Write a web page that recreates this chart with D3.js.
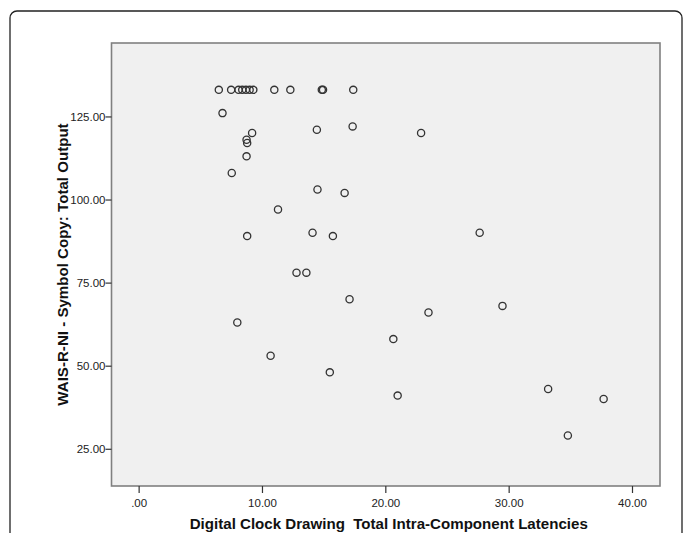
<!DOCTYPE html>
<html>
<head>
<meta charset="utf-8">
<script src="https://cdn.jsdelivr.net/npm/d3@7"></script>
<style>
  body { margin: 0; background: #fff; }
  text { font-family: "Liberation Sans", Arial, sans-serif; }
</style>
</head>
<body>
<div id="chart"></div>
<script>
/* data */
var latency = [6.5, 7.5, 8.1, 8.4, 8.7, 9.0, 9.3, 11.0, 12.3, 14.85, 14.95, 17.4,
               6.8, 9.2, 8.75, 8.8, 8.75, 7.55, 14.45, 17.35, 22.9,
               14.5, 16.7, 11.3, 8.8, 14.1, 15.75, 27.65, 12.8, 13.6,
               17.1, 23.5, 29.5, 8.0, 20.65, 10.7, 15.5, 21.0, 33.2, 37.7, 34.8];
var output  = [133, 133, 133, 133, 133, 133, 133, 133, 133, 133, 133, 133,
               126, 120, 118, 117, 113, 108, 121, 122, 120,
               103, 102, 97, 89, 90, 89, 90, 78, 78,
               70, 66, 68, 63, 58, 53, 48, 41, 43, 40, 29];
var xTicks = [0, 10, 20, 30, 40];
var yTicks = [25, 50, 75, 100, 125];

function draw() {
  "use strict";

  var W = 683, H = 533;
  var left = 111.5, right = 660, top = 43, bottom = 486;

  var svg = d3.select("#chart")
    .append("svg")
      .attr("width", W)
      .attr("height", H);

  /* outer frame */
  svg.append("rect")
    .attr("x", 10).attr("y", 11)
    .attr("width", 672).attr("height", 600)
    .attr("rx", 7)
    .attr("fill", "none")
    .attr("stroke", "#222")
    .attr("stroke-width", 1.3);

  var x = d3.scaleLinear().domain([-2.2, 42.27]).range([left, right]);
  var y = d3.scaleLinear().domain([13.8, 147.1]).range([bottom, top]);

  /* plot background */
  svg.append("rect")
    .attr("x", left).attr("y", top)
    .attr("width", right - left).attr("height", bottom - top)
    .attr("fill", "#f0f0f0")
    .attr("stroke", "#808080")
    .attr("stroke-width", 1.6);

  /* axes */
  var xAxis = d3.axisBottom(x).tickValues(xTicks)
    .tickFormat(function (d) { return d === 0 ? ".00" : d3.format(".2f")(d); })
    .tickSize(7).tickSizeOuter(0);
  var gx = svg.append("g")
    .attr("transform", "translate(0," + bottom + ")")
    .call(xAxis);
  gx.select(".domain").remove();
  gx.selectAll("line").attr("stroke", "#333").attr("stroke-width", 1.2);
  gx.selectAll("text").attr("font-size", "11.5px").attr("fill", "#222").attr("dy", "0.95em");

  var yAxis = d3.axisLeft(y).tickValues(yTicks)
    .tickFormat(d3.format(".2f"))
    .tickSize(6).tickSizeOuter(0);
  var gy = svg.append("g")
    .attr("transform", "translate(" + left + ",0)")
    .call(yAxis);
  gy.select(".domain").remove();
  gy.selectAll("line").attr("stroke", "#333").attr("stroke-width", 1.2);
  gy.selectAll("text").attr("font-size", "11.5px").attr("fill", "#222").attr("x", -6);

  /* points */
  svg.append("g")
    .selectAll("circle")
    .data(latency)
    .enter()
    .append("circle")
      .attr("cx", function (d) { return x(d); })
      .attr("cy", function (d, i) { return y(output[i]); })
      .attr("r", 3.6)
      .attr("fill", "none")
      .attr("stroke", "#333")
      .attr("stroke-width", 1.3);

  /* titles */
  svg.append("text")
    .attr("x", (left + right) / 2 + 3)
    .attr("y", 529)
    .attr("text-anchor", "middle")
    .style("white-space", "pre")
    .attr("font-size", "15.1px")
    .attr("font-weight", "bold")
    .attr("fill", "#111")
    .text("Digital Clock Drawing  Total Intra-Component Latencies");

  svg.append("text")
    .attr("transform", "translate(68," + ((top + bottom) / 2) + ") rotate(-90)")
    .attr("text-anchor", "middle")
    .attr("font-size", "15.1px")
    .attr("font-weight", "bold")
    .attr("fill", "#111")
    .text("WAIS-R-NI - Symbol Copy: Total Output");
}

draw();
</script>
</body>
</html>
